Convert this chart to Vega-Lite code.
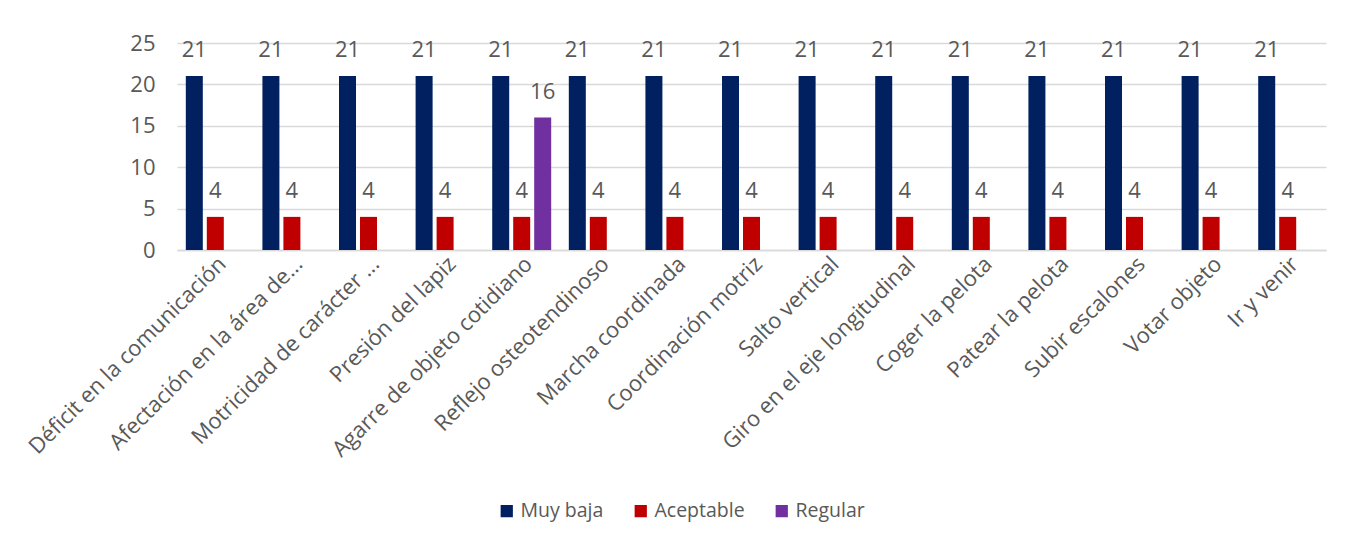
{
  "$schema": "https://vega.github.io/schema/vega-lite/v6.json",
  "width": 1149,
  "height": 207,
  "autosize": {"type": "none"},
  "padding": {"left": 177, "top": 43, "right": 21, "bottom": 292},
  "background": "white",
  "config": {
    "font": "Open Sans",
    "view": {"stroke": null},
    "axis": {"labelColor": "#595959", "labelFont": "Open Sans"}
  },
  "data": {
    "values": [
      {"cat": "Déficit en la comunicación", "nivel": "Muy baja", "valor": 21},
      {"cat": "Déficit en la comunicación", "nivel": "Aceptable", "valor": 4},
      {"cat": "Afectación en la área de...", "nivel": "Muy baja", "valor": 21},
      {"cat": "Afectación en la área de...", "nivel": "Aceptable", "valor": 4},
      {"cat": "Motricidad de carácter ...", "nivel": "Muy baja", "valor": 21},
      {"cat": "Motricidad de carácter ...", "nivel": "Aceptable", "valor": 4},
      {"cat": "Presión del lapiz", "nivel": "Muy baja", "valor": 21},
      {"cat": "Presión del lapiz", "nivel": "Aceptable", "valor": 4},
      {"cat": "Agarre de objeto cotidiano", "nivel": "Muy baja", "valor": 21},
      {"cat": "Agarre de objeto cotidiano", "nivel": "Aceptable", "valor": 4},
      {"cat": "Agarre de objeto cotidiano", "nivel": "Regular", "valor": 16},
      {"cat": "Reflejo osteotendinoso", "nivel": "Muy baja", "valor": 21},
      {"cat": "Reflejo osteotendinoso", "nivel": "Aceptable", "valor": 4},
      {"cat": "Marcha coordinada", "nivel": "Muy baja", "valor": 21},
      {"cat": "Marcha coordinada", "nivel": "Aceptable", "valor": 4},
      {"cat": "Coordinación motriz", "nivel": "Muy baja", "valor": 21},
      {"cat": "Coordinación motriz", "nivel": "Aceptable", "valor": 4},
      {"cat": "Salto vertical", "nivel": "Muy baja", "valor": 21},
      {"cat": "Salto vertical", "nivel": "Aceptable", "valor": 4},
      {"cat": "Giro en el eje longitudinal", "nivel": "Muy baja", "valor": 21},
      {"cat": "Giro en el eje longitudinal", "nivel": "Aceptable", "valor": 4},
      {"cat": "Coger la pelota", "nivel": "Muy baja", "valor": 21},
      {"cat": "Coger la pelota", "nivel": "Aceptable", "valor": 4},
      {"cat": "Patear la pelota", "nivel": "Muy baja", "valor": 21},
      {"cat": "Patear la pelota", "nivel": "Aceptable", "valor": 4},
      {"cat": "Subir escalones", "nivel": "Muy baja", "valor": 21},
      {"cat": "Subir escalones", "nivel": "Aceptable", "valor": 4},
      {"cat": "Votar objeto", "nivel": "Muy baja", "valor": 21},
      {"cat": "Votar objeto", "nivel": "Aceptable", "valor": 4},
      {"cat": "Ir y venir", "nivel": "Muy baja", "valor": 21},
      {"cat": "Ir y venir", "nivel": "Aceptable", "valor": 4}
    ]
  },
  "encoding": {
    "x": {
      "field": "cat", "type": "nominal", "sort": null, "title": null,
      "scale": {"paddingInner": 0.23, "paddingOuter": 0.115},
      "axis": {"labelAngle": -45, "labelFontSize": 22, "ticks": false, "domain": true, "domainColor": "#d9d9d9", "domainWidth": 1.5, "labelPadding": 3, "labelLimit": 400}
    },
    "xOffset": {"field": "nivel", "type": "nominal", "sort": ["Muy baja", "Aceptable", "Regular"], "scale": {"domain": ["Muy baja", "Aceptable", "Regular"], "paddingInner": 0.19}},
    "y": {
      "field": "valor", "type": "quantitative", "title": null,
      "scale": {"domain": [0, 25]},
      "axis": {"values": [0, 5, 10, 15, 20, 25], "labelFontSize": 22, "grid": true, "gridColor": "#d9d9d9", "gridWidth": 1.5, "domain": false, "ticks": false, "labelPadding": 22}
    }
  },
  "layer": [
    {
      "mark": {"type": "bar"},
      "encoding": {
        "color": {
          "field": "nivel", "type": "nominal", "title": null,
          "scale": {"domain": ["Muy baja", "Aceptable", "Regular"], "range": ["#002060", "#C00000", "#7030A0"]},
          "legend": {"orient": "none", "legendX": 320, "legendY": 458, "direction": "horizontal", "symbolType": "square", "symbolSize": 150, "symbolStrokeWidth": 0, "labelFontSize": 19.5, "labelColor": "#595959", "labelFont": "Open Sans", "columnPadding": 27, "labelOffset": 4}
        }
      }
    },
    {
      "mark": {"type": "text", "baseline": "middle", "dy": -26, "fontSize": 22, "color": "#595959", "font": "Open Sans"},
      "encoding": {"text": {"field": "valor", "type": "quantitative"}}
    }
  ]
}
